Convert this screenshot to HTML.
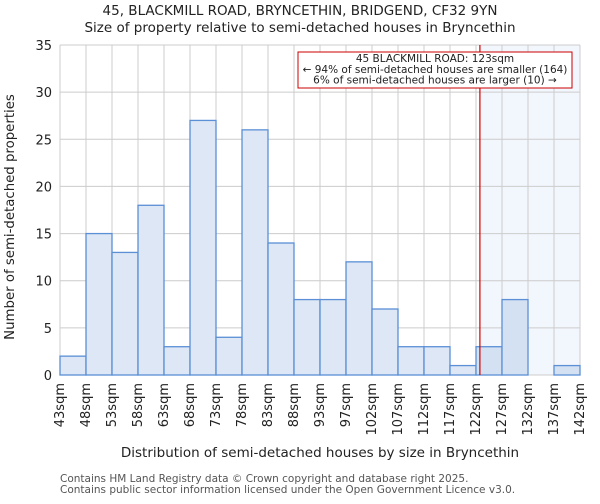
<!DOCTYPE html>
<html><head><meta charset="utf-8"><style>
body{margin:0;background:#fff;font-family:"DejaVu Sans","Liberation Sans",sans-serif;}
</style></head><body>
<svg width="600" height="500" font-family="DejaVu Sans, Liberation Sans, sans-serif">
<text x="300" y="15" text-anchor="middle" font-size="13.5" fill="#222">45, BLACKMILL ROAD, BRYNCETHIN, BRIDGEND, CF32 9YN</text>
<text x="300" y="32" text-anchor="middle" font-size="13.5" fill="#222">Size of property relative to semi-detached houses in Bryncethin</text>
<g id="plot"></g>
<text x="320" y="457" text-anchor="middle" font-size="13.5" fill="#222">Distribution of semi-detached houses by size in Bryncethin</text>
<text x="14" y="217" text-anchor="middle" font-size="13.3" fill="#222" transform="rotate(-90 14 217)">Number of semi-detached properties</text>
<text x="60" y="482" font-size="10.5" fill="#555">Contains HM Land Registry data © Crown copyright and database right 2025.</text>
<text x="60" y="493" font-size="10.5" fill="#555">Contains public sector information licensed under the Open Government Licence v3.0.</text>
</svg>
<script>
const categories=["43sqm","48sqm","53sqm","58sqm","63sqm","68sqm","73sqm","78sqm","83sqm","88sqm","93sqm","97sqm","102sqm","107sqm","112sqm","117sqm","122sqm","127sqm","132sqm","137sqm","142sqm"];
const values=[2,15,13,18,3,27,4,26,14,8,8,12,7,3,3,1,3,8,0,1];
const yTicks=[0,5,10,15,20,25,30,35];
const markerIndex=16.15;
const NS="http://www.w3.org/2000/svg";
const g=document.getElementById('plot');
const x0=60,x1=580,y0=375,y1=45,yMax=35;
const bw=(x1-x0)/values.length;
const X=i=>x0+i*bw;
const Y=v=>y0-(v/yMax)*(y0-y1);
function el(t,a){const e=document.createElementNS(NS,t);for(const k in a)e.setAttribute(k,a[k]);g.appendChild(e);return e;}
const mx=X(markerIndex);
let e=el('rect',{x:mx,y:y1,width:x1-mx,height:y0-y1,fill:'#f2f6fd'});


for(let i=0;i<=values.length;i++){e=el('line',{x1:X(i),x2:X(i),y1:y1,y2:y0,stroke:'#cccccc'});

}
yTicks.forEach(t=>{e=el('line',{x1:x0,x2:x1,y1:Y(t),y2:Y(t),stroke:'#cccccc'});


e=el('text',{x:x0-8,y:Y(t)+5,'text-anchor':'end','font-size':13,fill:'#222'});e.textContent=t;

});
values.forEach((v,i)=>{if(v<=0)return;e=el('rect',{x:X(i),y:Y(v),width:bw,height:y0-Y(v),fill:(i+1>markerIndex?'#d4e1f3':'#dde7f5'),stroke:'#5b8fd6','stroke-width':1.3});

});
categories.forEach((c,i)=>{const tx=X(i)+4,ty=y0+8;e=el('text',{x:tx,y:ty,'text-anchor':'end','font-size':13,fill:'#222',transform:`rotate(-90 ${tx} ${ty})`});e.textContent=c;

});
e=el('line',{x1:mx,x2:mx,y1:y1,y2:y0,stroke:'#d40000','stroke-width':1.2});


e=el('rect',{x:298,y:52,width:274,height:36,fill:'#fff',stroke:'#cc0000','stroke-width':1});


["45 BLACKMILL ROAD: 123sqm","← 94% of semi-detached houses are smaller (164)","6% of semi-detached houses are larger (10) →"].forEach((s,k)=>{e=el('text',{x:435,y:62+k*10.8,'text-anchor':'middle','font-size':10.5,fill:'#222'});e.textContent=s;

});
</script>
</body></html>
